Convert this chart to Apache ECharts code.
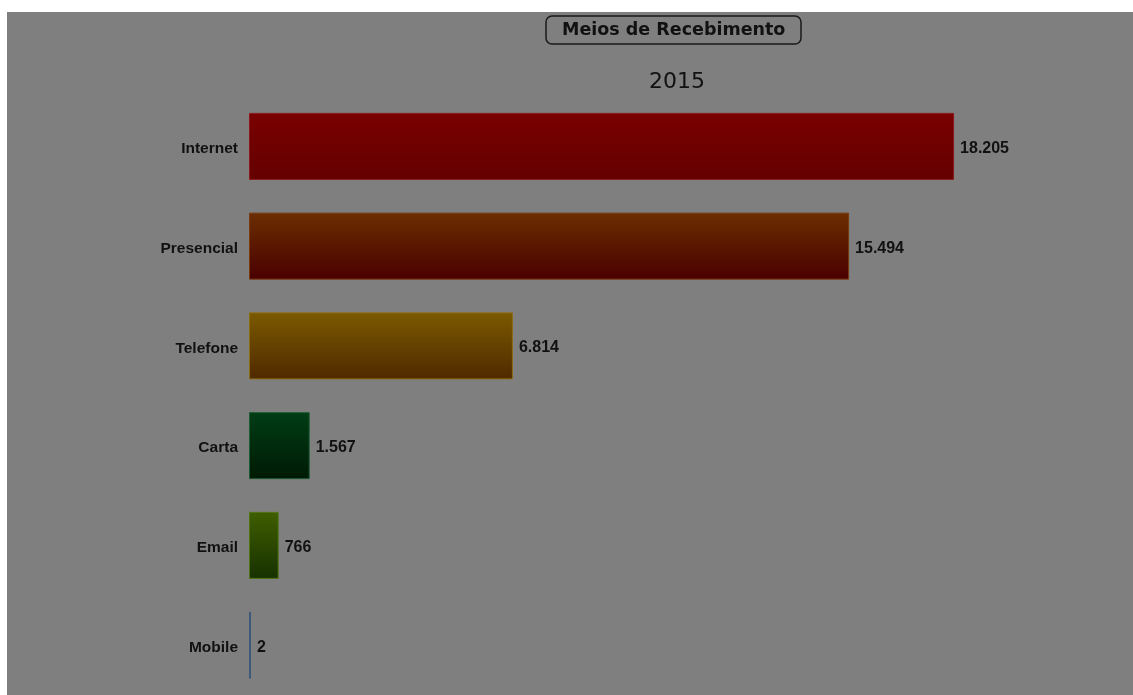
<!DOCTYPE html>
<html>
<head>
<meta charset="utf-8">
<script src="https://cdn.jsdelivr.net/npm/echarts@6/dist/echarts.min.js"></script>
<style>
  html, body { margin: 0; padding: 0; background: #ffffff; width: 1133px; height: 695px; overflow: hidden; }
  #chart { position: absolute; left: 7px; top: 12px; width: 1126px; height: 683px; }
</style>
</head>
<body>
<div id="chart"></div>
<script>
// Receipt channels, year 2015
const categories = ['Internet', 'Presencial', 'Telefone', 'Carta', 'Email', 'Mobile'];
const values = [18205, 15494, 6814, 1567, 766, 2];
// top / bottom colour of each bar's vertical gradient, plus its outline
const gradTop = ['#7a0000', '#6b2e00', '#7b5a00', '#003d15', '#3f5e00', '#3d5878'];
const gradBottom = ['#640000', '#4a0000', '#4f2900', '#001a05', '#173100', '#2e4663'];
const borders = ['#8c1a1a', '#7a3a10', '#8c6c10', '#1c5a30', '#4e7414', '#3d5878'];

const chart = echarts.init(document.getElementById('chart'));

// thousands separator with a dot
const fmt = v => String(v).replace(/\B(?=(\d{3})+(?!\d))/g, '.');

const barData = values.map((v, i) => ({
  value: v,
  itemStyle: {
    color: new echarts.graphic.LinearGradient(0, 0, 0, 1, [
      { offset: 0, color: gradTop[i] },
      { offset: 1, color: gradBottom[i] }
    ]),
    borderColor: borders[i],
    borderWidth: 1
  }
}));

chart.setOption({
  backgroundColor: '#7f7f7f',
  animation: false,
  title: [
    {
      text: 'Meios de Recebimento',
      left: 539,
      top: 4,
      padding: [5, 16, 5, 16],
      borderColor: '#1a1a1a',
      borderWidth: 1.5,
      borderRadius: 6,
      textStyle: { fontFamily: 'DejaVu Sans', fontWeight: 'bold', fontSize: 17.5, color: '#111111' }
    },
    {
      text: '2015',
      left: 642,
      top: 59,
      padding: 0,
      textStyle: { fontFamily: 'DejaVu Sans', fontWeight: 'normal', fontSize: 22, color: '#111111' }
    }
  ],
  grid: { left: 242, top: 84.5, width: 774.6, height: 600, containLabel: false },
  xAxis: {
    type: 'value',
    min: 0,
    max: 20000,
    show: false
  },
  yAxis: {
    type: 'category',
    data: categories,
    inverse: true,
    axisLine: { show: false },
    axisTick: { show: false },
    splitLine: { show: false },
    axisLabel: {
      margin: 11,
      color: '#111111',
      fontFamily: 'Liberation Sans',
      fontWeight: 'bold',
      fontSize: 15.5,
      formatter: v => '{c|' + v + '}',
      rich: {
        c: {
          color: '#111111',
          fontFamily: 'Liberation Sans',
          fontWeight: 'bold',
          fontSize: 15.5,
          padding: [5, 0, 0, 0]
        }
      }
    }
  },
  series: [{
    type: 'bar',
    data: barData,
    barWidth: 67,
    barMinHeight: 2,
    label: {
      show: true,
      position: 'right',
      distance: 6,
      offset: [0, 2],
      color: '#111111',
      fontFamily: 'Liberation Sans',
      fontWeight: 'bold',
      fontSize: 16,
      formatter: p => fmt(p.value)
    }
  }]
});
</script>
</body>
</html>
